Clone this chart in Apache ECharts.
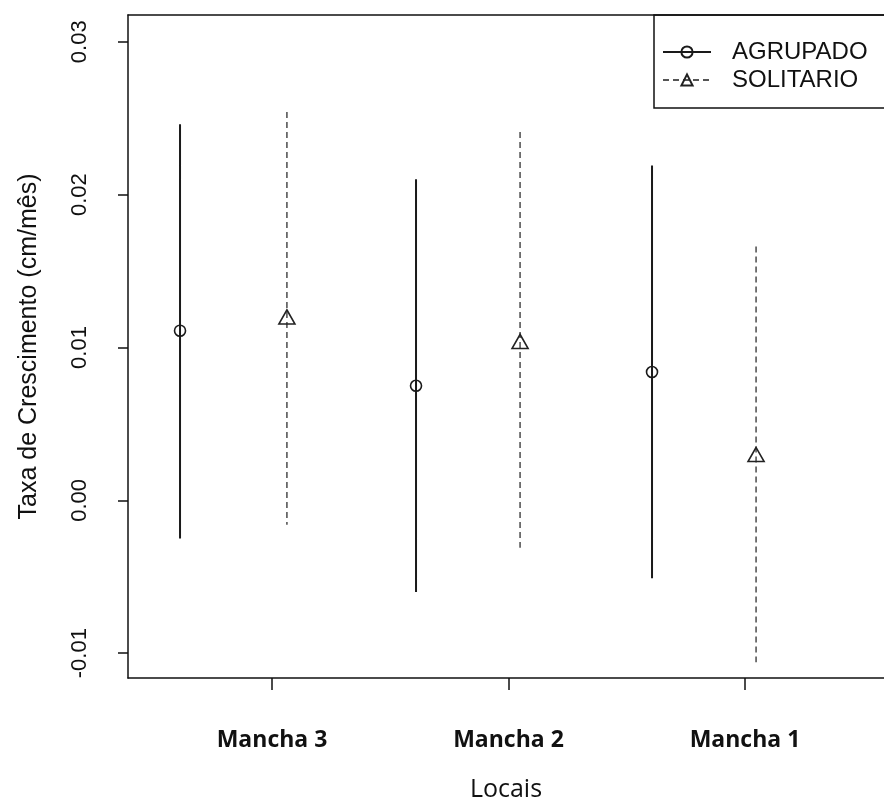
<!DOCTYPE html>
<html>
<head>
<meta charset="utf-8">
<script src="https://cdn.jsdelivr.net/npm/echarts@6/dist/echarts.min.js"></script>
<style>html,body{margin:0;padding:0;background:#fff;}#chart{width:884px;height:807px;}</style>
</head>
<body>
<div id="chart"></div>
<script>
const categories = ['Mancha 3', 'Mancha 2', 'Mancha 1'];
const categoryPos = [1, 2, 3];
const yTicks = [-0.01, 0.00, 0.01, 0.02, 0.03];

const agrupadoX = [0.611, 1.609, 2.607];
const agrupadoMean = [0.0111, 0.0075, 0.0084];
const agrupadoUpper = [0.0246, 0.0210, 0.0219];
const agrupadoLower = [-0.0025, -0.0060, -0.0051];

const solitarioX = [1.063, 2.049, 3.047];
const solitarioMean = [0.0120, 0.0104, 0.0030];
const solitarioUpper = [0.0254, 0.0241, 0.0166];
const solitarioLower = [-0.0016, -0.0031, -0.0106];

function buildData(xs, mean, up, low) {
  const out = [];
  xs.forEach((x, i) => {
    out.push({ value: [x, up[i]], symbol: 'none' });
    out.push({ value: [x, mean[i]] });
    out.push({ value: [x, low[i]], symbol: 'none' });
    out.push({ value: [x, '-'] });
  });
  return out;
}

const chart = echarts.init(document.getElementById('chart'));
chart.setOption({
  animation: false,
  backgroundColor: '#fff',
  grid: { left: 128, right: 0, top: 15, bottom: 124, containLabel: false },
  legend: {
    orient: 'vertical',
    left: 654, top: 15,
    padding: [24, 60, 15, 8],
    borderColor: '#111', borderWidth: 1.5,
    itemWidth: 48, itemHeight: 14, itemGap: 2,
    textStyle: { fontFamily: 'Liberation Sans', fontSize: 24, color: '#111', lineHeight: 26, padding: [0, 0, 0, 16] },
    data: ['AGRUPADO', 'SOLITARIO']
  },
  xAxis: [{
    type: 'value', min: 0.391, max: 3.588, position: 'bottom',
    splitLine: { show: false },
    axisLine: { show: true, onZero: false, lineStyle: { color: '#111', width: 1.5 } },
    axisTick: { show: true, length: 12, customValues: categoryPos, lineStyle: { color: '#111', width: 1.5 } },
    axisLabel: {
      customValues: categoryPos, margin: 51,
      formatter: v => categories[categoryPos.indexOf(Math.round(v))] || '',
      fontFamily: 'Open Sans', fontWeight: 'bold', fontSize: 23, color: '#111'
    },
    name: 'Locais', nameLocation: 'middle', nameGap: 99,
    nameTextStyle: { fontFamily: 'Open Sans', fontSize: 25, color: '#111' }
  }, {
    type: 'value', min: 0.391, max: 3.588, position: 'top',
    splitLine: { show: false },
    axisLine: { show: true, onZero: false, lineStyle: { color: '#111', width: 1.5 } },
    axisTick: { show: false }, axisLabel: { show: false }
  }],
  yAxis: {
    type: 'value', min: -0.011623, max: 0.031753,
    splitLine: { show: false },
    axisLine: { show: true, onZero: false, lineStyle: { color: '#111', width: 1.5 } },
    axisTick: { show: true, length: 10, customValues: yTicks, lineStyle: { color: '#111', width: 1.5 } },
    axisLabel: {
      customValues: yTicks, rotate: 90, margin: 37,
      formatter: v => v.toFixed(2),
      fontFamily: 'Liberation Sans', fontSize: 22, color: '#111'
    },
    name: 'Taxa de Crescimento (cm/mês)', nameLocation: 'middle', nameGap: 86, nameRotate: 90,
    nameTextStyle: { fontFamily: 'Liberation Sans', fontSize: 25, color: '#111' }
  },
  series: [{
    name: 'AGRUPADO', type: 'line',
    data: buildData(agrupadoX, agrupadoMean, agrupadoUpper, agrupadoLower),
    symbol: 'circle', symbolSize: 11, showSymbol: true, connectNulls: false,
    lineStyle: { color: '#1a1a1a', width: 2, type: 'solid' },
    itemStyle: { color: 'rgba(255,255,255,0)', borderColor: '#1a1a1a', borderWidth: 1.6 },
    emphasis: { disabled: true }, silent: true
  }, {
    name: 'SOLITARIO', type: 'line',
    data: buildData(solitarioX, solitarioMean, solitarioUpper, solitarioLower),
    symbol: 'triangle', symbolSize: [16, 14], showSymbol: true, connectNulls: false,
    lineStyle: { color: '#555', width: 1.6, type: [6, 4] },
    itemStyle: { color: 'rgba(255,255,255,0)', borderColor: '#222', borderWidth: 1.6 },
    emphasis: { disabled: true }, silent: true
  }]
});
</script>
</body>
</html>
